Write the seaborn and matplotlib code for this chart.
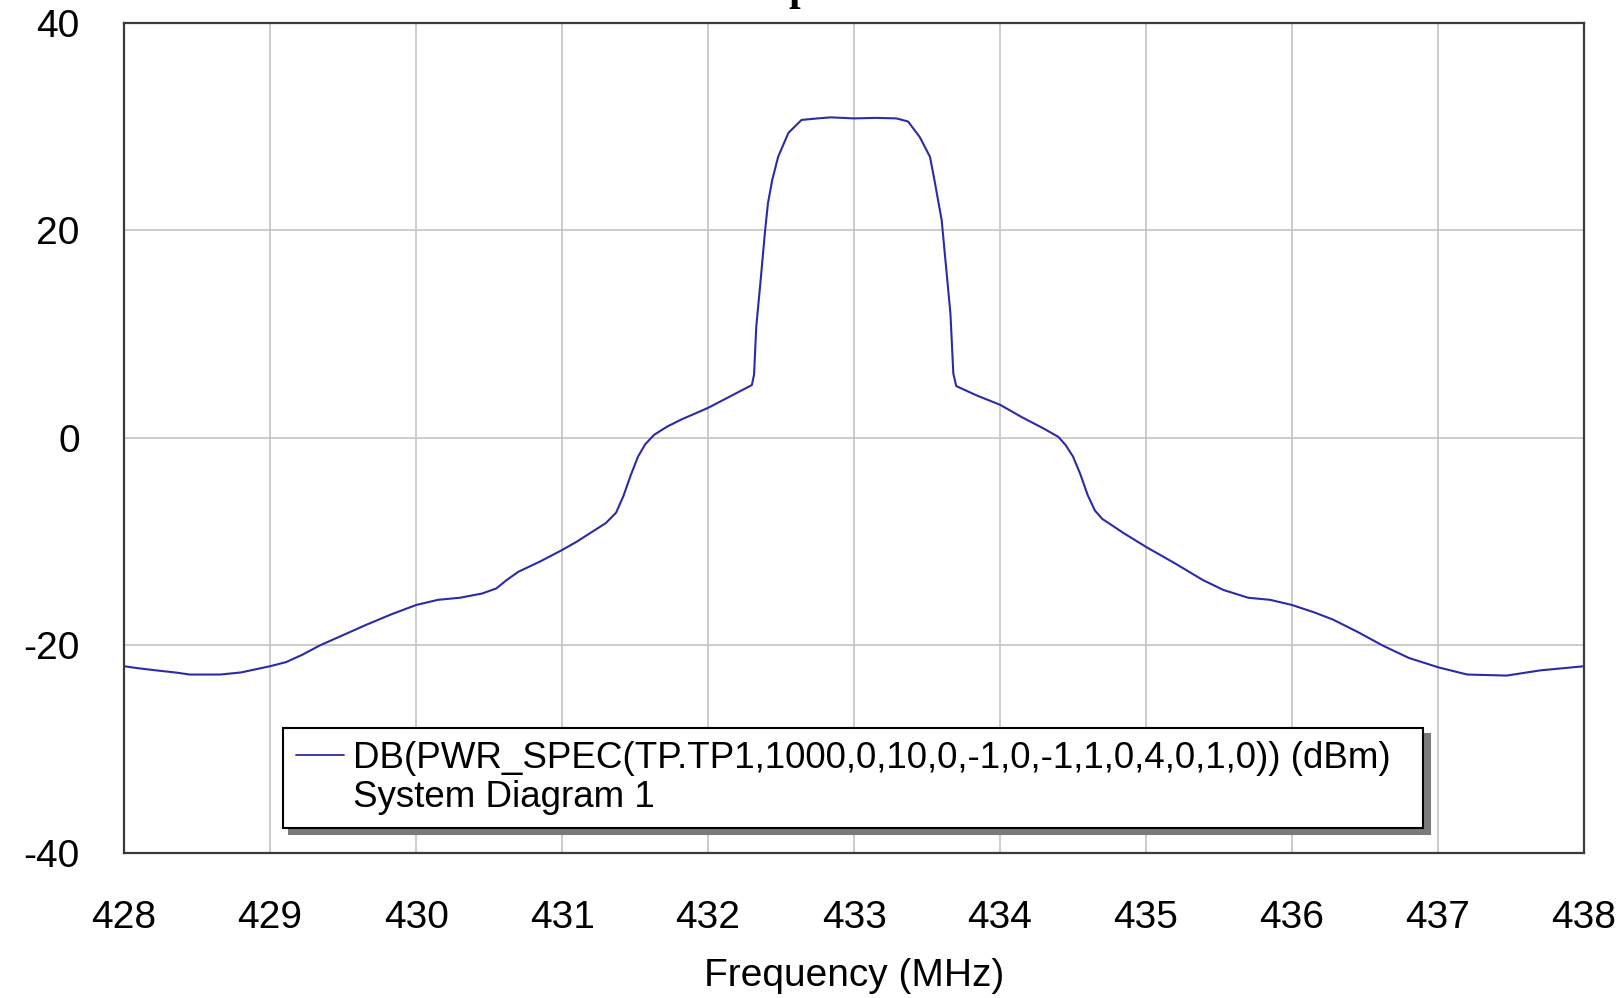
#%% imports
import matplotlib
matplotlib.use('Agg')
import matplotlib.pyplot as plt
from matplotlib.lines import Line2D
import seaborn as sns
import pandas as pd

#%% data
freq_mhz = [428.0, 428.1, 428.22, 428.35, 428.45, 428.66, 428.8, 429.0, 429.11, 429.22,
            429.34, 429.5, 429.66, 429.83, 430.0, 430.15, 430.3, 430.45, 430.55, 430.62,
            430.7, 430.85, 431.0, 431.1, 431.2, 431.3, 431.37, 431.42, 431.47, 431.52,
            431.57, 431.63, 431.72, 431.82, 432.0, 432.15, 432.3, 432.315, 432.33, 432.36,
            432.39, 432.41, 432.44, 432.48, 432.55, 432.64, 432.75, 432.84, 433.0, 433.15,
            433.29, 433.37, 433.45, 433.52, 433.55, 433.6, 433.63, 433.66, 433.68, 433.7,
            433.84, 434.0, 434.15, 434.3, 434.4, 434.45, 434.5, 434.55, 434.6, 434.65,
            434.7, 434.85, 435.0, 435.2, 435.39, 435.53, 435.7, 435.85, 436.0, 436.15,
            436.28, 436.45, 436.62, 436.8, 437.0, 437.2, 437.47, 437.7, 438.0]
power_dbm = [-22.0, -22.2, -22.4, -22.6, -22.8, -22.8, -22.6, -22.0, -21.6, -20.9,
             -20.0, -19.0, -18.0, -17.0, -16.1, -15.6, -15.4, -15.0, -14.5, -13.7,
             -12.9, -11.9, -10.8, -10.0, -9.1, -8.2, -7.2, -5.6, -3.6, -1.8,
             -0.6, 0.3, 1.1, 1.8, 2.9, 4.0, 5.1, 6.1, 10.7, 15.2,
             19.9, 22.6, 24.9, 27.1, 29.4, 30.65, 30.8, 30.9, 30.8, 30.85,
             30.8, 30.5, 29.0, 27.1, 24.9, 21.0, 16.5, 12.0, 6.2, 5.0,
             4.1, 3.2, 2.0, 0.9, 0.1, -0.7, -1.8, -3.5, -5.5, -7.0,
             -7.8, -9.2, -10.5, -12.1, -13.7, -14.65, -15.4, -15.6, -16.1, -16.8,
             -17.5, -18.7, -20.0, -21.2, -22.1, -22.8, -22.9, -22.4, -22.0]

x_ticks = [428, 429, 430, 431, 432, 433, 434, 435, 436, 437, 438]
y_ticks = [-40, -20, 0, 20, 40]
trace_label = 'DB(PWR_SPEC(TP.TP1,1000,0,10,0,-1,0,-1,1,0,4,0,1,0)) (dBm)'
source_label = 'System Diagram 1'

df = pd.DataFrame({'freq': freq_mhz, 'pwr': power_dbm})

#%% plot
sns.set_style('whitegrid')
plt.rcParams['font.family'] = ['Liberation Sans', 'DejaVu Sans']
plt.rcParams['axes.unicode_minus'] = False
plt.rcParams['text.color'] = 'black'

fig = plt.figure(figsize=(16.22, 9.98), dpi=100)
ax = fig.add_axes([0.0765, 0.1453, 0.9001, 0.8317])

line_col = '#2b2ba6'
sns.lineplot(data=df, x='freq', y='pwr', ax=ax, color=line_col, linewidth=1.5)

ax.set_xlim(428, 438)
ax.set_ylim(-40, 40)
ax.set_xticks(x_ticks)
ax.set_yticks(y_ticks)
ax.tick_params(axis='both', length=0, labelsize=28, labelcolor='black')
ax.tick_params(axis='x', pad=34)
ax.tick_params(axis='y', pad=32)
ax.grid(True, color='#c4c4c4', linewidth=1.2)
for s in ax.spines.values():
    s.set_color('#3a3a3a')
    s.set_linewidth(1.6)

ax.set_xlabel('Frequency (MHz)', fontsize=28, labelpad=16, color='black')
ax.set_ylabel('')

# title sits mostly above the top of the image, as in the reference
fig.text(0.5265, 1.0, 'Spectrum', ha='center', va='baseline',
         fontsize=30, fontweight='bold', family='Liberation Serif')

handles = [Line2D([0], [0], color=line_col, lw=1.3),
           Line2D([0], [0], color='none', lw=1.3)]
leg = ax.legend(handles, [trace_label, source_label], loc='lower left',
                bbox_to_anchor=(0.109, 0.030, 0.781, 0.125), mode='expand',
                fancybox=False, edgecolor='black', framealpha=1,
                shadow={'ox': 4.5, 'oy': -4.5, 'facecolor': '#7a7a7a',
                        'edgecolor': '#7a7a7a', 'alpha': 1},
                borderaxespad=0, borderpad=0.35, labelspacing=0.12,
                handlelength=1.3, handletextpad=0.25, fontsize=26.5)
leg.get_frame().set_linewidth(1.5)
for t in leg.get_texts():
    t.set_color('black')

plt.savefig('out.png', dpi=100)
